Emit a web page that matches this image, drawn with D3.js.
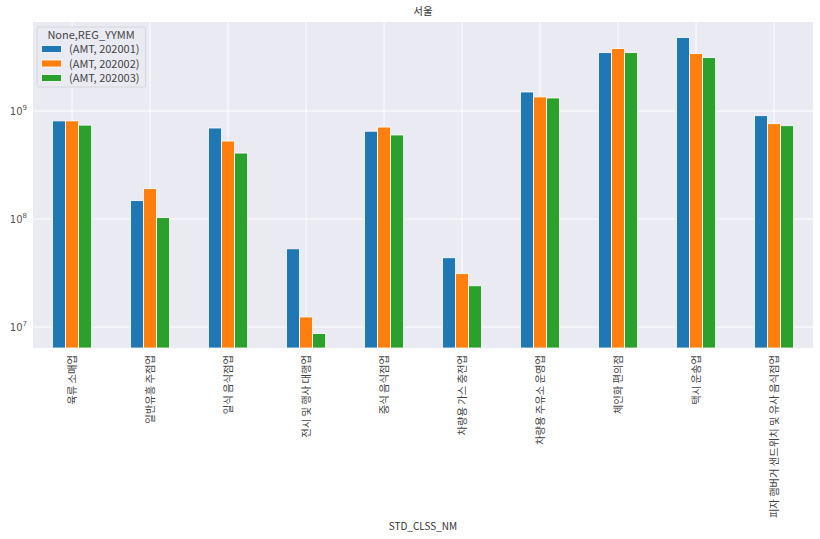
<!DOCTYPE html>
<html>
<head>
<meta charset="utf-8">
<script src="https://cdn.jsdelivr.net/npm/d3@7"></script>
<style>
    body { margin: 0; background: #fff; }
    text { font-family: "Noto Sans CJK KR", "DejaVu Sans", sans-serif; }
</style>
</head>
<body>
<div id="chart"></div>
<script>
"use strict";

// categories (STD_CLSS_NM)
var categories = [
    "육류 소매업",
    "일반유흥 주점업",
    "일식 음식점업",
    "전시 및 행사 대행업",
    "중식 음식점업",
    "차량용 가스 충전업",
    "차량용 주유소 운영업",
    "체인화 편의점",
    "택시 운송업",
    "피자 햄버거 샌드위치 및 유사 음식점업"
];

var seriesNames = ["(AMT, 202001)", "(AMT, 202002)", "(AMT, 202003)"];
var seriesColors = ["#1f77b4", "#ff7f0e", "#2ca02c"];

// values
var amt202001 = [8.1e8, 1.48e8, 6.96e8, 5.3e7, 6.5e8, 4.38e7, 1.5e9, 3.47e9, 4.78e9, 9.05e8];
var amt202002 = [8.1e8, 1.91e8, 5.27e8, 1.24e7, 7.1e8, 3.12e7, 1.35e9, 3.78e9, 3.40e9, 7.63e8];
var amt202003 = [7.4e8, 1.03e8, 4.08e8, 8.7e6, 6.0e8, 2.41e7, 1.32e9, 3.47e9, 3.12e9, 7.31e8];

var yTicks = [1e7, 1e8, 1e9];

function drawChart() {
    var width = 820;
    var height = 539;
    var left = 33, right = 813, top = 22, bottom = 348;

    var svg = d3.select("#chart")
        .append("svg")
        .attr("width", width)
        .attr("height", height);

    var table = categories.map(function(c, i) {
        return { name: c, values: [amt202001[i], amt202002[i], amt202003[i]] };
    });

    var x = d3.scaleBand()
        .domain(categories)
        .range([left, right])
        .padding(0);
    var x1 = d3.scaleBand()
        .domain(seriesNames)
        .range([x.bandwidth() * 0.25, x.bandwidth() * 0.75]);
    var y = d3.scaleLog()
        .domain([Math.pow(10, 6.806), Math.pow(10, 9.824)])
        .range([bottom, top]);

    // plot background
    svg.append("rect")
        .attr("x", left)
        .attr("y", top)
        .attr("width", right - left)
        .attr("height", bottom - top)
        .attr("fill", "#eaeaf2");

    // grid
    var grid = svg.append("g").attr("class", "grid");
    grid.selectAll("line.h")
        .data(yTicks)
        .enter()
        .append("line")
        .attr("class", "h")
        .attr("x1", left).attr("x2", right)
        .attr("y1", function(d) { return y(d); })
        .attr("y2", function(d) { return y(d); })
        .attr("stroke", "#fff")
        .attr("stroke-width", 1);
    grid.selectAll("line.v")
        .data(categories)
        .enter()
        .append("line")
        .attr("class", "v")
        .attr("x1", function(d) { return x(d) + x.bandwidth() / 2; })
        .attr("x2", function(d) { return x(d) + x.bandwidth() / 2; })
        .attr("y1", top).attr("y2", bottom)
        .attr("stroke", "#fff")
        .attr("stroke-width", 1);

    // bars
    var groups = svg.append("g")
        .selectAll("g")
        .data(table)
        .enter()
        .append("g")
        .attr("transform", function(d) { return "translate(" + x(d.name) + ",0)"; });
    groups.selectAll("rect")
        .data(function(d) {
            return d.values.map(function(v, i) { return { key: seriesNames[i], value: v, i: i }; });
        })
        .enter()
        .append("rect")
        .attr("x", function(d) { return x1(d.key); })
        .attr("width", x1.bandwidth())
        .attr("y", function(d) { return y(d.value); })
        .attr("height", function(d) { return bottom - y(d.value); })
        .attr("fill", function(d) { return seriesColors[d.i]; })
        .attr("stroke", "#fff")
        .attr("stroke-width", 0.8);

    // y tick labels with superscript
    var yLab = svg.append("g")
        .selectAll("text")
        .data(yTicks)
        .enter()
        .append("text")
        .attr("x", 27)
        .attr("y", function(d) { return y(d) + 4; })
        .attr("text-anchor", "end")
        .attr("fill", "#555")
        .style("font-family", "'DejaVu Sans', sans-serif")
        .style("font-size", "10px");
    yLab.append("tspan").text("10");
    yLab.append("tspan")
        .attr("dy", -5)
        .style("font-size", "7px")
        .text(function(d) { return Math.round(Math.log10(d)); });

    // x tick labels, rotated
    svg.append("g")
        .selectAll("text")
        .data(categories)
        .enter()
        .append("text")
        .attr("transform", function(d) {
            return "translate(" + (x(d) + x.bandwidth() / 2) + "," + (bottom + 7) + ") rotate(-90)";
        })
        .attr("dy", "0.35em")
        .attr("text-anchor", "end")
        .attr("fill", "#444")
        .style("font-size", "10.3px")
        .text(function(d) { return d; });

    // title and axis label
    svg.append("text")
        .attr("x", (left + right) / 2)
        .attr("y", 15)
        .attr("text-anchor", "middle")
        .attr("fill", "#333")
        .style("font-size", "10.5px")
        .text("서울");
    svg.append("text")
        .attr("x", (left + right) / 2)
        .attr("y", 530)
        .attr("text-anchor", "middle")
        .attr("fill", "#333")
        .style("font-size", "10px")
        .text("STD_CLSS_NM");

    // legend
    var legend = svg.append("g").attr("transform", "translate(37,27)");
    legend.append("rect")
        .attr("width", 108.5)
        .attr("height", 60)
        .attr("rx", 2)
        .attr("fill", "#eaeaf2")
        .attr("stroke", "#d0d0d6")
        .attr("stroke-width", 0.8);
    legend.append("text")
        .attr("x", 54)
        .attr("y", 11.5)
        .attr("text-anchor", "middle")
        .attr("fill", "#444")
        .style("font-size", "11px")
        .text("None,REG_YYMM");
    var items = legend.selectAll("g.item")
        .data(seriesNames)
        .enter()
        .append("g")
        .attr("class", "item")
        .attr("transform", function(d, i) { return "translate(0," + (22 + i * 14.5) + ")"; });
    items.append("rect")
        .attr("x", 4.5)
        .attr("y", -3.5)
        .attr("width", 20)
        .attr("height", 7)
        .attr("fill", function(d, i) { return seriesColors[i]; })
        .attr("stroke", "#fff")
        .attr("stroke-width", 0.8);
    items.append("text")
        .attr("x", 32)
        .attr("y", 4)
        .attr("fill", "#444")
        .style("font-size", "11px")
        .text(function(d) { return d; });
}

drawChart();
</script>
</body>
</html>
